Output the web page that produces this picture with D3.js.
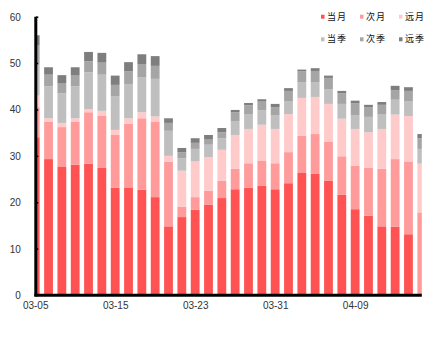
<!DOCTYPE html>
<html>
<head>
<meta charset="utf-8">
<script src="https://cdn.jsdelivr.net/npm/d3@7"></script>
<style>
  html, body { margin: 0; padding: 0; background: #fff; }
  svg { display: block; }
</style>
</head>
<body>
<div id="chart"></div>
<script>
const dates = ["03-05","03-08","03-09","03-10","03-11","03-12","03-15","03-16","03-17","03-18",
               "03-19","03-22","03-23","03-24","03-25","03-26","03-29","03-30","03-31","04-01",
               "04-02","04-06","04-07","04-08","04-09","04-12","04-13","04-14","04-15","04-16"];
const tickLabels = ["03-05","03-15","03-23","03-31","04-09"];
const yTicks = [0,10,20,30,40,50,60];

const seriesNames = ["当月","次月","远月","当季","次季","远季"];
const dangyue = [34.0,29.3,27.6,28.1,28.3,27.4,23.1,23.2,22.7,21.1,
                 14.8,16.8,18.4,19.5,20.9,22.8,23.1,23.6,22.8,24.1,
                 26.3,26.1,24.6,21.6,18.5,17.1,14.8,14.7,13.1,0];
const ciyue   = [6.5,8.0,8.6,9.2,11.1,11.3,11.4,13.7,15.4,16.2,
                 13.9,2.2,2.7,3.0,3.7,4.4,5.3,5.4,5.6,6.7,
                 8.0,8.6,8.5,8.3,9.4,10.3,12.4,14.6,15.7,17.8];
const yuanyue = [2.5,0.8,0.9,0.8,0.7,1.0,1.1,1.2,1.3,1.2,
                 1.3,7.8,7.7,7.2,6.7,7.3,7.4,7.7,7.4,8.2,
                 8.2,8.0,8.1,8.1,7.9,7.7,8.6,9.6,9.8,10.5];
const dangji  = [7.0,6.9,6.4,6.9,7.9,7.8,7.2,7.4,7.5,8.1,
                 5.4,2.7,2.7,2.7,2.5,2.9,3.1,3.1,2.9,2.7,
                 3.4,3.2,3.2,3.2,2.9,3.3,3.1,3.2,3.1,3.2];
const ciji    = [3.9,2.5,2.2,2.3,2.4,2.6,2.5,2.7,2.9,2.8,
                 1.7,1.3,1.3,1.1,1.3,2.0,2.0,1.9,1.8,2.3,
                 2.3,2.4,2.4,2.3,2.6,2.1,2.1,2.0,2.3,2.3];
const yuanji  = [2.1,1.6,1.7,1.8,2.0,2.1,2.0,2.0,2.1,2.1,
                 1.0,0.9,1.0,1.0,0.9,0.5,0.5,0.5,0.7,0.6,
                 0.4,0.6,0.5,0.5,0.6,0.5,0.6,1.0,0.8,0.9];
const colors = ["#FF5252","#FF9B9B","#FFCACA","#BFBFBF","#A5A5A5","#7E7E7E"];

const W = 448, H = 346;
const seriesArrays = [dangyue, ciyue, yuanyue, dangji, ciji, yuanji];
const table = dates.map((d, i) => {
  const row = { date: d };
  seriesNames.forEach((s, k) => row[s] = seriesArrays[k][i]);
  return row;
});
const stacked = d3.stack().keys(seriesNames)(table);

const x = d3.scalePoint().domain(dates).range([35.2, 421.8]);
const y = d3.scaleLinear().domain([0, 60]).range([295, 16.7]);
const barW = 8.8;

const svg = d3.select("#chart").append("svg")
  .attr("width", W).attr("height", H)
  .attr("font-family", "'Liberation Sans', Arial, sans-serif");
svg.append("rect").attr("width", W).attr("height", H).attr("fill", "#fff");

svg.append("defs").append("clipPath").attr("id", "plot")
  .append("rect").attr("x", 35.5).attr("y", 0).attr("width", 421.8 - 35.5).attr("height", 296);

const gBars = svg.append("g").attr("clip-path", "url(#plot)");
gBars.selectAll("g.series").data(stacked).join("g")
  .attr("class", "series")
  .attr("fill", (d, k) => colors[k])
  .selectAll("rect").data(d => d).join("rect")
  .attr("x", d => x(d.data.date) - barW / 2)
  .attr("width", barW)
  .attr("y", d => y(d[1]))
  .attr("height", d => Math.max(0, y(d[0]) - y(d[1])));

// Y axis
const yAxis = d3.axisLeft(y).tickValues(yTicks).tickSize(0).tickPadding(0);
const gy = svg.append("g").attr("transform", "translate(35.8,0)").call(yAxis);
gy.select(".domain").remove();
gy.selectAll("text").attr("x", -15).attr("font-size", 10).attr("fill", "#333")
  .attr("text-anchor", "end").attr("dy", "0.35em");
gy.selectAll(".tick").append("line").attr("x1", 0).attr("x2", 2.5)
  .attr("stroke", "#000").attr("stroke-width", 1.5);
svg.append("line").attr("x1", 35.8).attr("x2", 35.8).attr("y1", y(60)).attr("y2", 296.2)
  .attr("stroke", "#000").attr("stroke-width", 3);

// X axis
const xAxis = d3.axisBottom(x).tickValues(tickLabels).tickSize(0).tickPadding(0);
const gx = svg.append("g").attr("transform", "translate(0,295)").call(xAxis);
gx.select(".domain").remove();
gx.selectAll("text").attr("y", 11).attr("dy", "0").attr("font-size", 10).attr("fill", "#333")
  .attr("dominant-baseline", "middle");
svg.append("line").attr("x1", 34.3).attr("x2", 421.8).attr("y1", 295.3).attr("y2", 295.3)
  .attr("stroke", "#000").attr("stroke-width", 3);

// Legend
const legX = [321, 360, 399];
const legY = [16.7, 39.3];
const gl = svg.append("g").attr("font-family", "'Noto Sans CJK SC', sans-serif");
seriesNames.forEach((s, k) => {
  const cx = legX[k % 3], cy = legY[Math.floor(k / 3)];
  gl.append("rect").attr("x", cx).attr("y", cy - 2).attr("width", 3.5).attr("height", 4)
    .attr("fill", colors[k]);
  gl.append("text").attr("x", cx + 6).attr("y", cy).attr("dy", "0.35em")
    .attr("font-size", 9).attr("letter-spacing", 1).attr("fill", "#111").text(s);
});
</script>
</body>
</html>
